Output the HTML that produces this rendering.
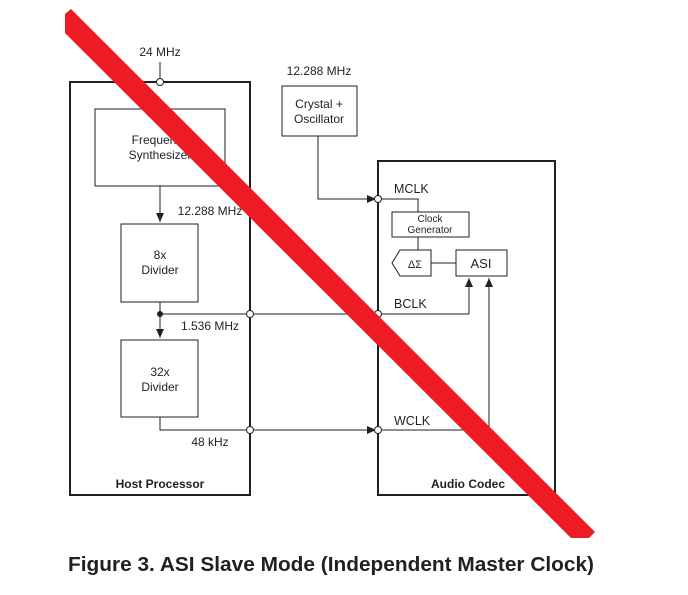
<!DOCTYPE html>
<html><head><meta charset="utf-8"><style>
html,body{margin:0;padding:0;background:#fff;}
svg{display:block;}
text{font-family:"Liberation Sans",Arial,sans-serif;fill:#231f20;}
</style></head><body>
<svg width="688" height="595" viewBox="0 0 688 595" xmlns="http://www.w3.org/2000/svg">
<defs>
<marker id="ar" markerWidth="10" markerHeight="10" refX="9" refY="5" orient="auto" markerUnits="userSpaceOnUse">
<path d="M0,1 L9,5 L0,9 Z" fill="#231f20"/></marker>
</defs>
<g stroke="#231f20" fill="none">
<rect x="70" y="82" width="180" height="413" stroke-width="2"/>
<rect x="378" y="161" width="177" height="334" stroke-width="2"/>
<rect x="95" y="109" width="130" height="77" stroke-width="1"/>
<rect x="121" y="224" width="77" height="78" stroke-width="1"/>
<rect x="121" y="340" width="77" height="77" stroke-width="1"/>
<rect x="282" y="86" width="75" height="50" stroke-width="1"/>
<rect x="392" y="212" width="77" height="25" stroke-width="1"/>
<rect x="456" y="250" width="51" height="26" stroke-width="1"/>
<path d="M392,263 L400,250 L431,250 L431,276 L400,276 Z" stroke-width="1"/>
<line x1="160" y1="62" x2="160" y2="82" stroke-width="1"/>
<line x1="160" y1="186" x2="160" y2="222" stroke-width="1" marker-end="url(#ar)"/>
<line x1="160" y1="302" x2="160" y2="338" stroke-width="1" marker-end="url(#ar)"/>
<line x1="160" y1="314" x2="469" y2="314" stroke-width="1"/>
<polyline points="469,314 469,278" stroke-width="1" marker-end="url(#ar)"/>
<polyline points="160,417 160,430 489,430 489,278" stroke-width="1" marker-end="url(#ar)"/>
<line x1="250" y1="430" x2="376" y2="430" stroke-width="1" marker-end="url(#ar)"/>
<polyline points="318,136 318,199 376,199" stroke-width="1" marker-end="url(#ar)"/>
<polyline points="378,199 418,199 418,212" stroke-width="1"/>
<line x1="418" y1="237" x2="418" y2="250" stroke-width="1"/>
<line x1="431" y1="263" x2="456" y2="263" stroke-width="1"/>
</g>
<g fill="#fff" stroke="#231f20" stroke-width="1">
<circle cx="160" cy="82" r="3.5"/>
<circle cx="250" cy="314" r="3.5"/>
<circle cx="250" cy="430" r="3.5"/>
<circle cx="378" cy="199" r="3.5"/>
<circle cx="378" cy="314" r="3.5"/>
<circle cx="378" cy="430" r="3.5"/>
</g>
<circle cx="160" cy="314" r="3" fill="#231f20"/>
<g font-size="12" text-anchor="middle">
<text x="160" y="56">24 MHz</text>
<text x="319" y="75">12.288 MHz</text>
<text x="319" y="108">Crystal +</text>
<text x="319" y="123">Oscillator</text>
<text x="160" y="144">Frequency</text>
<text x="160" y="159">Synthesizer</text>
<text x="210" y="215">12.288 MHz</text>
<text x="160" y="259">8x</text>
<text x="160" y="274">Divider</text>
<text x="210" y="330">1.536 MHz</text>
<text x="160" y="376">32x</text>
<text x="160" y="391">Divider</text>
<text x="210" y="446">48 kHz</text>
<text x="160" y="488" font-weight="bold">Host Processor</text>
<text x="430" y="222" font-size="10">Clock</text>
<text x="430" y="233" font-size="10">Generator</text>
<text x="415" y="268" font-size="11">ΔΣ</text>
<text x="481" y="268" font-size="13">ASI</text>
<text x="468" y="488" font-weight="bold">Audio Codec</text>
</g>
<g font-size="12.5">
<text x="394" y="193">MCLK</text>
<text x="394" y="308">BCLK</text>
<text x="394" y="425">WCLK</text>
</g>
<polygon points="65,14 71,9 595,532 589,538 571,538 65,33" fill="#ED1C24"/>
<text x="68" y="571" font-size="20.5" font-weight="bold" fill="#000" textLength="526" lengthAdjust="spacingAndGlyphs">Figure 3. ASI Slave Mode (Independent Master Clock)</text>
</svg>
</body></html>
